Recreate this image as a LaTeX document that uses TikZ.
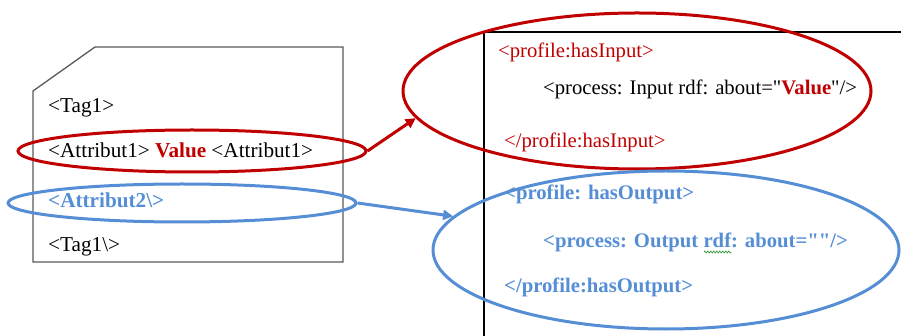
\documentclass[tikz,border=0pt]{standalone}
\usepackage{fontspec}
\setmainfont{Liberation Serif}
\usetikzlibrary{shapes.geometric,arrows.meta,decorations.pathmorphing}
\definecolor{dred}{HTML}{C00000}
\definecolor{lblue}{HTML}{558ED5}
\definecolor{wgreen}{HTML}{3A9A3A}
\begin{document}
\begin{tikzpicture}[x=1pt,y=-1pt,
  txt/.style={anchor=base west,inner sep=0pt,font=\fontsize{21.2}{24}\selectfont},
  rtxt/.style={anchor=base west,inner sep=0pt,font=\fontsize{20.7}{24}\selectfont},
  btxt/.style={rtxt,text=lblue,font=\fontsize{20.7}{24}\selectfont\bfseries},
  ring/.style={ellipse,draw,line width=3pt,inner sep=0pt},
  conn/.style={line width=3pt,-{Triangle[length=10pt,width=10pt]}}]
\useasboundingbox (0,0) rectangle (901,336);
% left card
\draw[black!65,line width=1.3pt] (33,91) -- (95,47) -- (343,47) -- (343,262) -- (33,262) -- cycle;
\node[txt] (t1) at (48,113) {<Tag1>};
\node[txt] (a1) at (48,158) {<Attribut1> \textcolor{dred}{\textbf{Value}} <Attribut1>};
\node[txt,text=lblue,font=\fontsize{21.2}{24}\selectfont\bfseries] (a2) at (48,208) {<Attribut2\textbackslash>};
\node[txt] (t2) at (48,252) {<Tag1\textbackslash>};
% right panel
\draw[black,line width=1.3pt] (484,336) -- (484,32) -- (901,32);
\node[rtxt,text=dred] (r1) at (498,58) {<profile:hasInput>};
\node[rtxt] (r2) at (543,95) {<process: Input rdf: about=\textquotedbl\textcolor{dred}{\textbf{Value}}\textquotedbl/>};
\node[rtxt,text=dred] (r3) at (504,148) {</profile:hasInput>};
\node[btxt] (b1) at (504,200) {<profile: hasOutput>};
\node[btxt] (b2) at (543,248) {<process: Output rdf: about=\textquotedbl\textquotedbl/>};
\node[btxt] (b3) at (504,293) {</profile:hasOutput>};
% spell-check squiggle under "rdf"
\draw[wgreen,line width=0.7pt,decorate,decoration={zigzag,amplitude=1pt,segment length=3pt}] (704,252) -- (731,252);
% ellipses
\node[ring,draw=dred,minimum width=348pt,minimum height=42pt] (es) at (192,151) {};
\node[ring,draw=lblue,minimum width=348pt,minimum height=38pt] (bs) at (182,203) {};
\node[ring,draw=dred,minimum width=468pt,minimum height=156pt] (eb) at (637,91) {};
\node[ring,draw=lblue,minimum width=466pt,minimum height=158pt] (bb) at (666,250) {};
% arrows
\draw[conn,draw=dred,fill=dred] (es.east) -- (eb.187);
\draw[conn,draw=lblue,fill=lblue] (bs.east) -- (bb.171);
\end{tikzpicture}
\end{document}
